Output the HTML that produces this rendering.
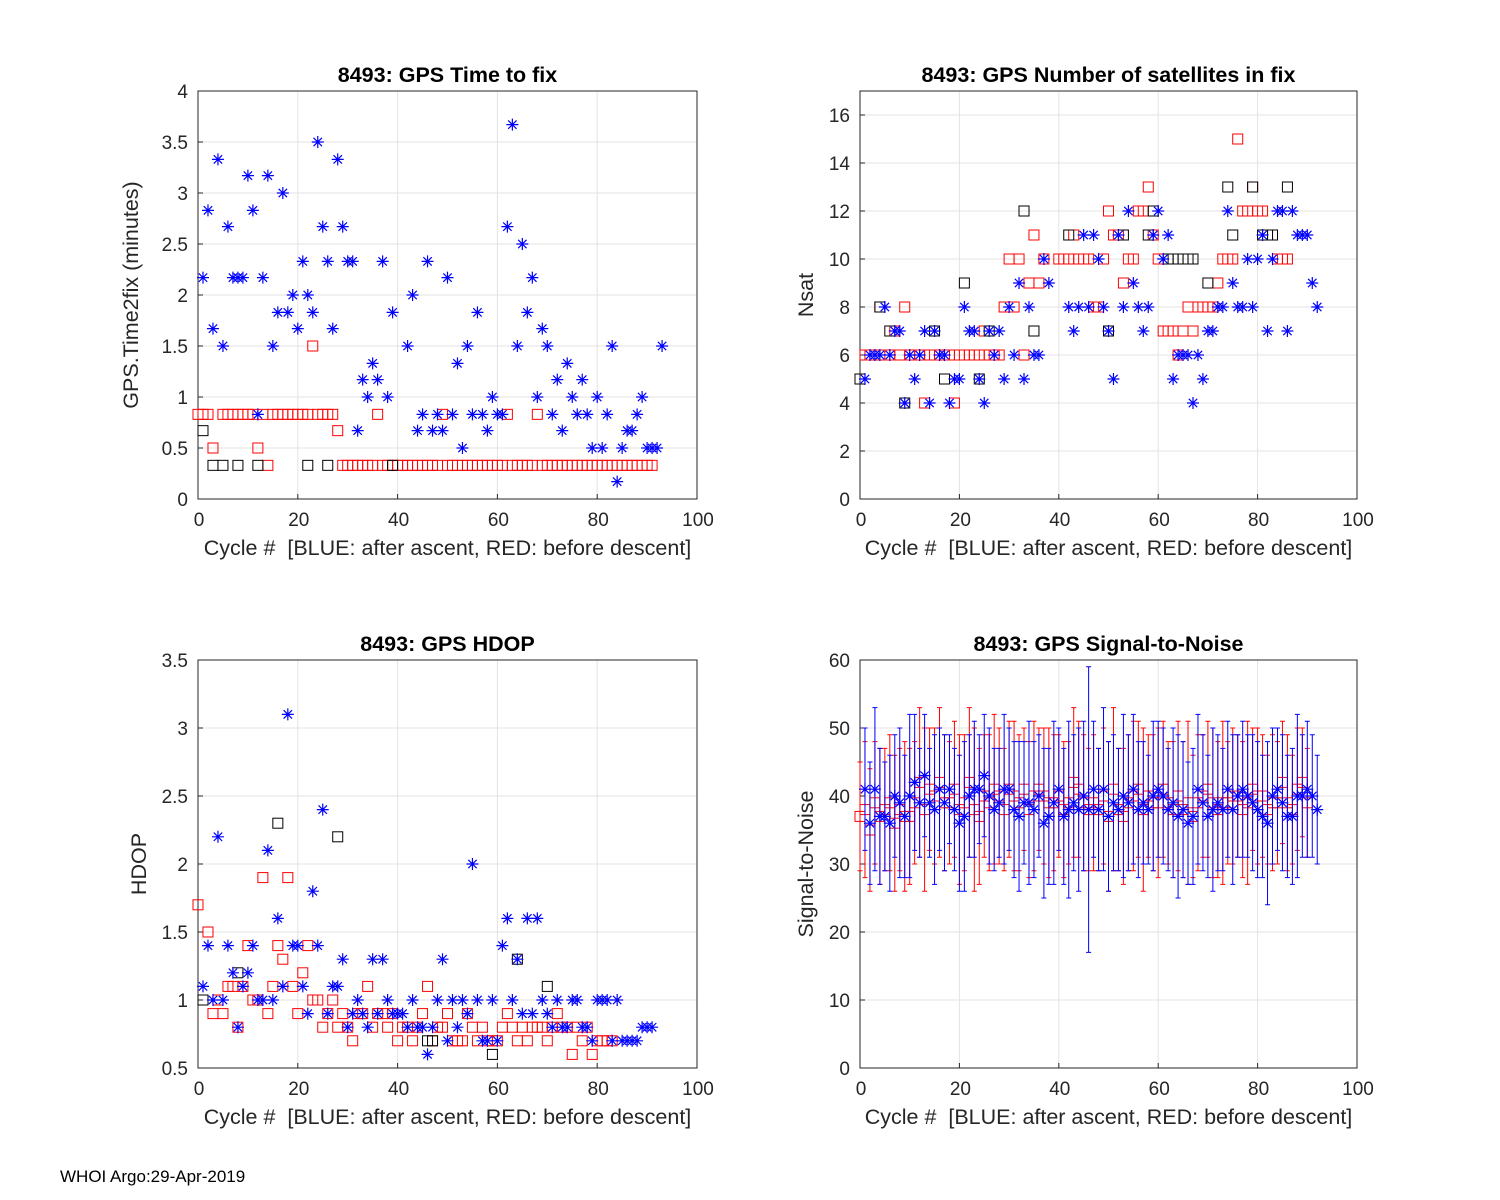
<!DOCTYPE html>
<html><head><meta charset="utf-8"><style>
body{margin:0;background:#fff;}
svg{display:block;font-family:"Liberation Sans",Arial,sans-serif;}
</style></head><body>
<svg id="fig" width="1500" height="1200" viewBox="0 0 1500 1200">
<rect width="1500" height="1200" fill="#fff"/>
<text x="60" y="1182" font-size="17">WHOI Argo:29-Apr-2019</text>
</svg>
<script>
// ---- data ----
const ttfBlue=[2.17,2.83,1.67,3.33,1.5,2.67,2.17,2.17,2.17,3.17,2.83,0.83,2.17,3.17,1.5,1.83,3.0,1.83,2.0,1.67,2.33,2.0,1.83,3.5,2.67,2.33,1.67,3.33,2.67,2.33,2.33,0.67,1.17,1.0,1.33,1.17,2.33,1.0,1.83,null,null,1.5,2.0,0.67,0.83,2.33,0.67,0.83,0.67,2.17,0.83,1.33,0.5,1.5,0.83,1.83,0.83,0.67,1.0,0.83,0.83,2.67,3.67,1.5,2.5,1.83,2.17,1.0,1.67,1.5,0.83,1.17,0.67,1.33,1.0,0.83,1.17,0.83,0.5,1.0,0.5,0.83,1.5,0.17,0.5,0.67,0.67,0.83,1.0,0.5,0.5,0.5,1.5];
const ttfRed=[0.83,0.83,0.83,0.5,null,0.83,0.83,0.83,0.83,0.83,0.83,0.83,0.5,0.83,0.33,0.83,0.83,0.83,0.83,0.83,0.83,0.83,0.83,1.5,0.83,0.83,0.83,0.83,0.67,0.33,0.33,0.33,0.33,0.33,0.33,0.33,0.83,0.33,0.33,0.33,0.33,0.33,0.33,0.33,0.33,0.33,0.33,0.33,0.33,0.83,0.33,0.33,0.33,0.33,0.33,0.33,0.33,0.33,0.33,0.33,0.33,0.33,0.83,0.33,0.33,0.33,0.33,0.33,0.83,0.33,0.33,0.33,0.33,0.33,0.33,0.33,0.33,0.33,0.33,0.33,0.33,0.33,0.33,0.33,0.33,0.33,0.33,0.33,0.33,0.33,0.33,0.33];
const ttfBlackX=[1,3,5,8,12,22,26,39];
const ttfBlackY=[0.67,0.33,0.33,0.33,0.33,0.33,0.33,0.33];

const nsBlue=[5,6,6,6,8,6,7,7,4,6,5,6,7,4,7,6,6,4,5,5,8,7,7,5,4,7,6,7,5,8,6,9,5,8,6,6,10,9,null,null,null,8,7,8,11,8,11,10,8,7,5,11,8,12,9,8,7,8,11,12,10,11,5,6,6,6,4,6,5,7,7,8,8,12,9,8,8,10,8,10,11,7,10,12,12,7,12,11,11,11,9,8];
const nsRed=[5,6,6,6,8,6,6,7,6,8,6,6,6,4,6,6,6,6,6,4,6,6,6,6,6,7,6,6,6,8,10,8,10,6,9,11,9,10,null,null,10,10,10,11,10,10,10,8,8,10,12,11,11,9,10,10,12,12,13,11,10,7,7,7,6,7,8,7,8,8,8,8,9,10,10,10,15,12,12,13,12,12,11,11,10,10,10];
const nsBlackX=[0,4,6,9,15,17,21,24,26,33,35,42,50,53,58,59,62,63,64,65,66,67,70,74,75,79,81,82,83,86];
const nsBlackY=[5,8,7,4,7,5,9,5,7,12,7,11,7,11,11,12,10,10,10,10,10,10,9,13,11,13,11,11,11,13];

const hdBlue=[1.1,1.4,1.0,2.2,1.0,1.4,1.2,0.8,1.1,1.2,1.4,1.0,1.0,2.1,1.0,1.6,1.1,3.1,1.4,1.4,1.1,0.9,1.8,1.4,2.4,0.9,1.1,1.1,1.3,0.8,0.9,1.0,0.9,0.8,1.3,0.9,1.3,1.0,0.9,0.9,0.9,0.8,1.0,0.8,0.8,0.6,0.8,1.0,1.3,0.7,1.0,0.8,1.0,0.9,2.0,1.0,0.7,0.7,1.0,0.7,1.4,1.6,1.0,1.3,0.9,1.6,0.9,1.6,1.0,0.9,0.8,1.0,0.8,0.8,1.0,1.0,0.8,0.8,0.7,1.0,1.0,1.0,0.7,1.0,0.7,0.7,0.7,0.7,0.8,0.8,0.8];
const hdRed=[1.7,1.0,1.5,0.9,1.0,0.9,1.1,1.1,0.8,1.1,1.4,1.0,1.0,1.9,0.9,1.1,1.4,1.3,1.9,1.1,0.9,1.2,1.4,1.0,1.0,0.8,0.9,1.0,0.8,0.9,0.8,0.7,0.9,0.9,1.1,0.8,0.9,0.9,0.8,0.9,0.7,0.8,0.8,0.7,0.8,0.9,1.1,0.7,0.8,0.8,0.9,0.7,0.7,0.7,0.9,0.8,0.7,0.8,0.7,0.7,0.7,0.8,0.9,0.8,0.7,0.8,0.7,0.8,0.8,0.8,0.7,0.8,0.9,0.8,0.8,0.6,0.8,0.7,0.8,0.6,0.7,0.7,0.7,0.7];
const hdBlackX=[1,8,16,28,46,47,59,64,70];
const hdBlackY=[1.0,1.2,2.3,2.2,0.7,0.7,0.6,1.3,1.1];

const snBlue=[41,36,41,37,37,36,40,39,37,40,42,39,43,39,38,41,39,41,38,36,37,40,41,41,43,40,38,39,41,41,38,37,39,39,38,40,36,37,39,41,37,38,39,38,40,38,41,38,41,37,39,38,40,39,41,38,39,38,40,41,40,38,39,37,38,36,37,41,39,37,38,39,38,41,38,40,41,40,39,38,37,36,40,41,39,37,37,40,40,41,40,38];
const snBlueErr=[9,9,12,10,8,10,9,11,9,12,10,8,9,8,11,9,10,8,9,10,11,9,10,8,9,10,9,8,11,9,10,11,9,12,10,9,11,10,12,9,10,13,10,12,11,21,10,9,12,11,10,9,12,10,11,10,9,8,11,10,10,9,11,12,10,9,10,11,10,9,12,10,9,10,11,9,10,9,10,10,9,12,10,9,10,9,10,12,9,10,9,8];
const snRed=[37,38,35,39,37,38,39,36,38,37,37,39,42,38,41,40,42,39,39,41,38,39,42,38,37,40,39,41,40,38,41,40,39,41,38,40,41,40,39,39,40,38,39,42,41,39,38,39,38,40,37,41,38,37,39,40,41,38,40,39,39,41,39,38,40,38,39,37,39,40,41,39,38,39,39,40,40,38,39,41,40,40,38,39,39,42,39,38,41,42,39];
const snRedErr=[8,10,9,9,10,9,10,10,9,11,10,9,11,12,9,10,11,10,9,10,11,10,11,12,10,9,10,11,10,9,10,11,10,9,10,11,9,10,11,10,9,10,9,11,10,10,9,10,9,10,11,12,9,10,10,11,10,12,9,10,11,10,9,10,11,10,12,9,10,9,10,11,10,12,9,10,9,10,12,9,10,9,8,10,9,9,10,8,9,8,8];
const xTicks=[0,20,40,60,80,100];

const NS="http://www.w3.org/2000/svg";
const fig=document.getElementById('fig');
function el(tag,attrs,parent){const e=document.createElementNS(NS,tag);for(const k in attrs)e.setAttribute(k,attrs[k]);(parent||fig).appendChild(e);return e;}

function makeAxes(cfg){
  const g=el('g',{});
  
  
  const sx=v=>cfg.L+(v-0)/100*(cfg.R-cfg.L);
  const sy=v=>cfg.B-(v-cfg.y0)/(cfg.y1-cfg.y0)*(cfg.B-cfg.T);
  el('rect',{x:cfg.L,y:cfg.T,width:cfg.R-cfg.L,height:cfg.B-cfg.T,fill:'#fff'},g);
  xTicks.forEach(t=>{
    el('line',{x1:sx(t),x2:sx(t),y1:cfg.T,y2:cfg.B,stroke:'#e3e3e3','stroke-width':1},g);
    el('line',{x1:sx(t),x2:sx(t),y1:cfg.B,y2:cfg.B-5,stroke:'#262626'},g);
    const tx=el('text',{x:sx(t)+1,y:cfg.B+27,'font-size':19,'text-anchor':'middle',fill:'#262626'},g);tx.textContent=t;
    
    
  });
  cfg.yTicks.forEach((t,i)=>{
    el('line',{x1:cfg.L,x2:cfg.R,y1:sy(t),y2:sy(t),stroke:'#e3e3e3','stroke-width':1},g);
    el('line',{x1:cfg.L,x2:cfg.L+5,y1:sy(t),y2:sy(t),stroke:'#262626'},g);
    const tx=el('text',{x:cfg.L-10,y:sy(t)+7,'font-size':19,'text-anchor':'end',fill:'#262626'},g);tx.textContent=cfg.yTickLabels[i];
    
    
  });
  el('rect',{x:cfg.L,y:cfg.T,width:cfg.R-cfg.L,height:cfg.B-cfg.T,fill:'none',stroke:'#262626','stroke-width':1},g);
  const ti=el('text',{x:(cfg.L+cfg.R)/2,y:cfg.T-9,'font-size':21.5,'font-weight':'bold','text-anchor':'middle',fill:'#000'},g);ti.textContent=cfg.title;
  
  
  const xl=el('text',{x:(cfg.L+cfg.R)/2,y:cfg.B+56,'font-size':21.5,'text-anchor':'middle',fill:'#262626','xml:space':'preserve',style:'white-space:pre'},g);xl.textContent='Cycle #  [BLUE: after ascent, RED: before descent]';
  
  
  const yx=cfg.L-cfg.ylOff, yy=(cfg.T+cfg.B)/2;
  const yl=el('text',{x:yx,y:yy,'font-size':21.5,'text-anchor':'middle',fill:'#262626',transform:`rotate(-90 ${yx} ${yy})`},g);yl.textContent=cfg.ylabel;
  
  
  const marks=el('g',{},g);
  
  
  return {sx,sy,g:marks};
}
function square(ax,x,y,color){
  const X=ax.sx(x),Y=ax.sy(y);
  const r=el('rect',{x:X-5,y:Y-5,width:10,height:10,fill:'none',stroke:color,'stroke-width':1},ax.g);
  
  
}
function star(ax,x,y){
  const X=ax.sx(x),Y=ax.sy(y),s=6,d=4.2;
  const p=el('path',{d:`M${X-s},${Y}H${X+s}M${X},${Y-s}V${Y+s}M${X-d},${Y-d}L${X+d},${Y+d}M${X-d},${Y+d}L${X+d},${Y-d}`,stroke:'#0000ff','stroke-width':1.2,fill:'none'},ax.g);
  
  
}
function errbar(ax,x,y,e,color){
  const X=ax.sx(x);
  const p=el('path',{d:`M${X},${ax.sy(y-e)}V${ax.sy(y+e)}M${X-2.5},${ax.sy(y-e)}H${X+2.5}M${X-2.5},${ax.sy(y+e)}H${X+2.5}`,stroke:color,'stroke-width':1,fill:'none'},ax.g);
  
  
}

let ax=makeAxes({name:'time-to-fix-chart',L:198,R:697,T:91,B:499,y0:0,y1:4,yTicks:[0,0.5,1,1.5,2,2.5,3,3.5,4],yTickLabels:['0','0.5','1','1.5','2','2.5','3','3.5','4'],title:'8493: GPS Time to fix',ylabel:'GPS.Time2fix (minutes)',ylOff:60});
ttfRed.forEach((v,i)=>{if(v!=null)square(ax,i,v,'#ff0000');});
ttfBlackX.forEach((x,i)=>square(ax,x,ttfBlackY[i],'#000'));
ttfBlue.forEach((v,i)=>{if(v!=null)star(ax,i+1,v);});

ax=makeAxes({name:'nsat-chart',L:860,R:1357,T:91,B:499,y0:0,y1:17,yTicks:[0,2,4,6,8,10,12,14,16],yTickLabels:['0','2','4','6','8','10','12','14','16'],title:'8493: GPS Number of satellites in fix',ylabel:'Nsat',ylOff:47});
nsRed.forEach((v,i)=>{if(v!=null)square(ax,i,v,'#ff0000');});
nsBlackX.forEach((x,i)=>square(ax,x,nsBlackY[i],'#000'));
nsBlue.forEach((v,i)=>{if(v!=null)star(ax,i+1,v);});

ax=makeAxes({name:'hdop-chart',L:198,R:697,T:660,B:1068,y0:0.5,y1:3.5,yTicks:[0.5,1,1.5,2,2.5,3,3.5],yTickLabels:['0.5','1','1.5','2','2.5','3','3.5'],title:'8493: GPS HDOP',ylabel:'HDOP',ylOff:52});
hdRed.forEach((v,i)=>{if(v!=null)square(ax,i,v,'#ff0000');});
hdBlackX.forEach((x,i)=>square(ax,x,hdBlackY[i],'#000'));
hdBlue.forEach((v,i)=>{if(v!=null)star(ax,i+1,v);});

ax=makeAxes({name:'snr-chart',L:860,R:1357,T:660,B:1068,y0:0,y1:60,yTicks:[0,10,20,30,40,50,60],yTickLabels:['0','10','20','30','40','50','60'],title:'8493: GPS Signal-to-Noise',ylabel:'Signal-to-Noise',ylOff:47});
snRed.forEach((v,i)=>{errbar(ax,i,v,snRedErr[i],'#ff0000');square(ax,i,v,'#ff0000');});
snBlue.forEach((v,i)=>{errbar(ax,i+1,v,snBlueErr[i],'#0000ff');star(ax,i+1,v);});
</script>
</body></html>
